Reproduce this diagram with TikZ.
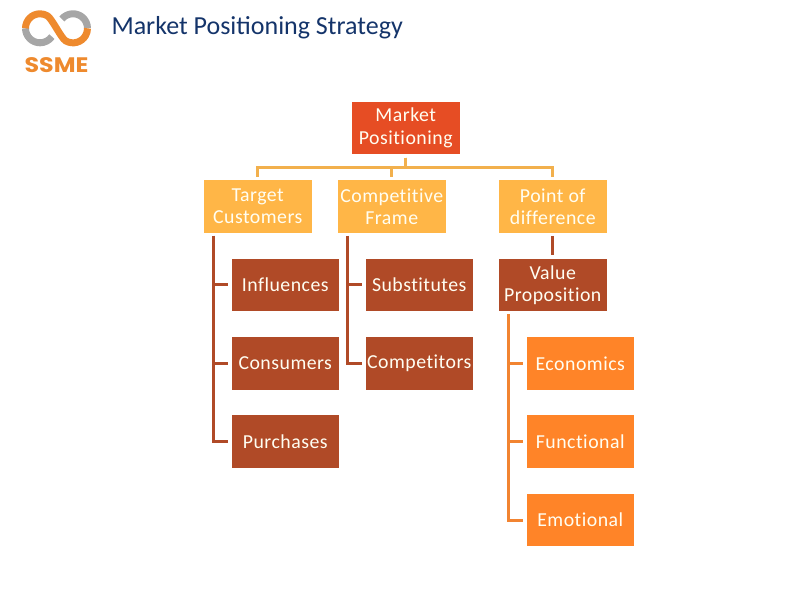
\documentclass[tikz,border=0pt]{standalone}
\usepackage{fontspec}
\setmainfont{Carlito}
\newfontfamily\bodyfont[LetterSpace=2.5,Ligatures=NoCommon]{Carlito}
\newfontfamily\logofont{Poppins}
\usetikzlibrary{positioning}
\definecolor{rootred}{HTML}{E64D24}
\definecolor{topyellow}{HTML}{FFB647}
\definecolor{midbrown}{HTML}{B04A27}
\definecolor{leaforange}{HTML}{FF8428}
\definecolor{titleblue}{HTML}{14346A}
\definecolor{logogray}{HTML}{A6A6A6}
\definecolor{logoorange}{HTML}{EE8A2E}
\tikzset{
    box/.style={minimum width=107.5pt, minimum height=52.5pt, inner sep=0pt, text=white!95!yellow,
        align=center, font=\bodyfont\fontsize{19.8}{22}\selectfont},
    link/.style={line width=3pt, shorten <=3pt, shorten >=3pt},
}
\begin{document}
\begin{tikzpicture}[x=1pt, y=1pt, node distance=25.5pt]
    \useasboundingbox (0,0) rectangle (792,612);
    % logo
    \draw[logogray, line width=7pt] (40,583.7) ++(180:14.5) arc (180:325:14.5);
    \draw[logogray, line width=7pt] (73,583.7) ++(140:14.5) arc (140:0:14.5);
    \draw[logoorange, line width=7pt] (25.5,583.7) arc (180:60:14.5) .. controls (52,593.6) and (61,573.8) .. (65.75,571.1) arc (240:360:14.5);
    \node[text=logoorange, xscale=1.13, font=\logofont\bfseries\fontsize{21}{21}\selectfont] (logo) at (56.5,547) {SSME};
    \node[anchor=west, text=titleblue, font=\fontsize{26}{30}\selectfont] (title) at (108,584) {Market Positioning Strategy};
    % boxes
    \node[box, fill=rootred] (root) at (405.75,483.75) {Market\\[1pt]Positioning};
    \node[box, fill=topyellow] (target) at (257.75,405.5) {Target\\Customers};
    \node[box, fill=topyellow] (frame) at (391.75,405.5) {Competitive\\Frame};
    \node[box, fill=topyellow] (point) at (552.75,405.5) {Point of\\difference};
    \node[box, fill=midbrown, below=of target, xshift=27.5pt] (influences) {Influences};
    \node[box, fill=midbrown, below=of influences] (consumers) {Consumers};
    \node[box, fill=midbrown, below=of consumers] (purchases) {Purchases};
    \node[box, fill=midbrown, below=of frame, xshift=27.5pt] (substitutes) {Substitutes};
    \node[box, fill=midbrown, below=of substitutes] (competitors) {Competitors};
    \node[box, fill=midbrown, below=of point] (value) {Value\\Proposition};
    \node[box, fill=leaforange, below=of value, xshift=27.5pt] (economics) {Economics};
    \node[box, fill=leaforange, below=of economics] (functional) {Functional};
    \node[box, fill=leaforange, below=of functional] (emotional) {Emotional};
    % connectors
    \foreach \child in {target,frame,point}
        \draw[link, topyellow!90!gray] (root.south) -- ++(0,-13) -| (\child.north);
    \foreach \child in {influences,consumers,purchases}
        \draw[link, midbrown] ([xshift=9.5pt]target.south west) |- (\child.west);
    \foreach \child in {substitutes,competitors}
        \draw[link, midbrown] ([xshift=9.5pt]frame.south west) |- (\child.west);
    \draw[link, midbrown] (point) -- (value);
    \foreach \child in {economics,functional,emotional}
        \draw[link, leaforange!90!gray] ([xshift=9.5pt]value.south west) |- (\child.west);
\end{tikzpicture}
\end{document}
